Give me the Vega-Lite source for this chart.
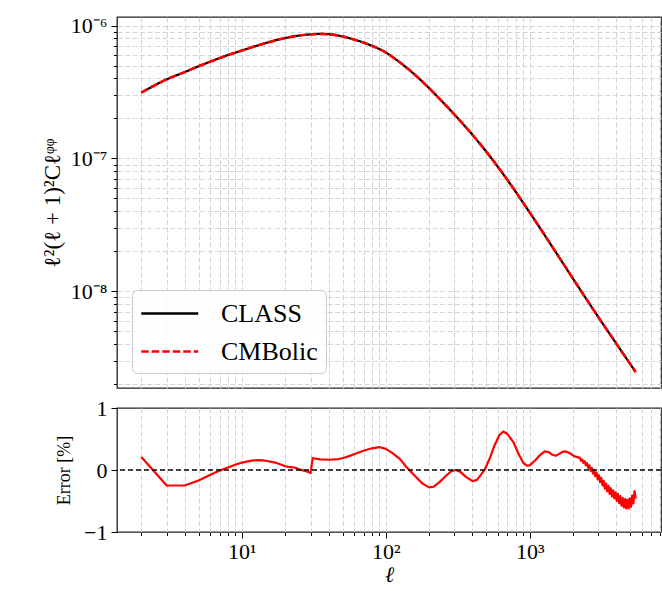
{
  "$schema": "https://vega.github.io/schema/vega-lite/v6.json",
  "padding": {"left": 40, "top": 13, "right": 1, "bottom": 2},
  "spacing": 0,
  "background": "white",
  "resolve": {"legend": {"color": "independent", "strokeDash": "independent"}},
  "config": {
    "view": {"stroke": "#222222", "strokeWidth": 1.3},
    "font": "Liberation Serif",
    "axis": {
      "labelFont": "Liberation Serif",
      "titleFont": "Liberation Serif",
      "labelColor": "black",
      "titleColor": "black",
      "tickColor": "black",
      "domain": false,
      "gridColor": "#d4d4d4",
      "gridDash": [5, 2.5],
      "gridWidth": 1,
      "labelFontSize": 22,
      "titleFontWeight": "normal",
      "tickWidth": 1,
      "labelOverlap": false,
      "labelFlush": false,
      "labelBound": false
    },
    "legend": {
      "labelFont": "Liberation Serif",
      "labelFontSize": 26,
      "labelColor": "black"
    }
  },
  "datasets": {
    "spec": [
      {"ell": 2, "class": 3.133e-7, "cmbolic": 3.133e-7},
      {"ell": 3, "class": 3.936e-7, "cmbolic": 3.936e-7},
      {"ell": 4, "class": 4.467e-7, "cmbolic": 4.467e-7},
      {"ell": 5, "class": 4.943e-7, "cmbolic": 4.943e-7},
      {"ell": 6, "class": 5.346e-7, "cmbolic": 5.346e-7},
      {"ell": 8, "class": 5.998e-7, "cmbolic": 5.998e-7},
      {"ell": 10, "class": 6.486e-7, "cmbolic": 6.486e-7},
      {"ell": 12, "class": 6.918e-7, "cmbolic": 6.918e-7},
      {"ell": 15, "class": 7.447e-7, "cmbolic": 7.447e-7},
      {"ell": 20, "class": 8.054e-7, "cmbolic": 8.054e-7},
      {"ell": 25, "class": 8.414e-7, "cmbolic": 8.414e-7},
      {"ell": 30, "class": 8.59e-7, "cmbolic": 8.59e-7},
      {"ell": 35, "class": 8.65e-7, "cmbolic": 8.65e-7},
      {"ell": 40, "class": 8.61e-7, "cmbolic": 8.61e-7},
      {"ell": 45, "class": 8.472e-7, "cmbolic": 8.472e-7},
      {"ell": 50, "class": 8.279e-7, "cmbolic": 8.279e-7},
      {"ell": 60, "class": 7.852e-7, "cmbolic": 7.852e-7},
      {"ell": 70, "class": 7.447e-7, "cmbolic": 7.447e-7},
      {"ell": 80, "class": 7.047e-7, "cmbolic": 7.047e-7},
      {"ell": 90, "class": 6.668e-7, "cmbolic": 6.668e-7},
      {"ell": 100, "class": 6.27e-7, "cmbolic": 6.27e-7},
      {"ell": 120, "class": 5.47e-7, "cmbolic": 5.47e-7},
      {"ell": 150, "class": 4.51e-7, "cmbolic": 4.51e-7},
      {"ell": 200, "class": 3.38e-7, "cmbolic": 3.38e-7},
      {"ell": 250, "class": 2.64e-7, "cmbolic": 2.64e-7},
      {"ell": 300, "class": 2.14e-7, "cmbolic": 2.14e-7},
      {"ell": 400, "class": 1.507e-7, "cmbolic": 1.507e-7},
      {"ell": 500, "class": 1.122e-7, "cmbolic": 1.122e-7},
      {"ell": 700, "class": 6.89e-8, "cmbolic": 6.89e-8},
      {"ell": 1000, "class": 3.92e-8, "cmbolic": 3.92e-8},
      {"ell": 1500, "class": 2.01e-8, "cmbolic": 2.01e-8},
      {"ell": 2000, "class": 1.245e-8, "cmbolic": 1.245e-8},
      {"ell": 3000, "class": 6.4e-9, "cmbolic": 6.4e-9},
      {"ell": 4000, "class": 4.04e-9, "cmbolic": 4.04e-9},
      {"ell": 5450, "class": 2.47e-9, "cmbolic": 2.47e-9}
    ],
    "err": [
      {"ell": 2, "err": 0.21}, {"ell": 3, "err": -0.25}, {"ell": 4, "err": -0.25},
      {"ell": 5, "err": -0.17}, {"ell": 6, "err": -0.08}, {"ell": 7, "err": -0.01},
      {"ell": 8, "err": 0.04}, {"ell": 9, "err": 0.085}, {"ell": 10, "err": 0.12},
      {"ell": 11, "err": 0.14}, {"ell": 12, "err": 0.155}, {"ell": 13, "err": 0.158},
      {"ell": 14, "err": 0.155}, {"ell": 15, "err": 0.145}, {"ell": 17, "err": 0.12},
      {"ell": 19, "err": 0.08}, {"ell": 20, "err": 0.06}, {"ell": 21, "err": 0.05},
      {"ell": 22, "err": 0.045}, {"ell": 23, "err": 0.04}, {"ell": 24, "err": 0.03},
      {"ell": 25, "err": 0.01}, {"ell": 27, "err": -0.01}, {"ell": 29, "err": -0.03},
      {"ell": 30, "err": -0.05}, {"ell": 31, "err": 0.19}, {"ell": 32, "err": 0.185},
      {"ell": 35, "err": 0.17}, {"ell": 40, "err": 0.165}, {"ell": 45, "err": 0.17},
      {"ell": 50, "err": 0.19}, {"ell": 55, "err": 0.22}, {"ell": 60, "err": 0.255},
      {"ell": 70, "err": 0.31}, {"ell": 80, "err": 0.35}, {"ell": 90, "err": 0.37},
      {"ell": 100, "err": 0.34}, {"ell": 110, "err": 0.28}, {"ell": 125, "err": 0.18},
      {"ell": 140, "err": 0.04}, {"ell": 147, "err": -0.01}, {"ell": 160, "err": -0.1},
      {"ell": 180, "err": -0.22}, {"ell": 200, "err": -0.28}, {"ell": 215, "err": -0.27},
      {"ell": 235, "err": -0.2}, {"ell": 260, "err": -0.1}, {"ell": 285, "err": -0.02},
      {"ell": 305, "err": 0.0}, {"ell": 330, "err": -0.03}, {"ell": 360, "err": -0.11},
      {"ell": 400, "err": -0.18}, {"ell": 430, "err": -0.16}, {"ell": 460, "err": -0.07},
      {"ell": 490, "err": 0.02}, {"ell": 530, "err": 0.2}, {"ell": 570, "err": 0.4},
      {"ell": 615, "err": 0.56}, {"ell": 655, "err": 0.62}, {"ell": 700, "err": 0.58},
      {"ell": 770, "err": 0.45}, {"ell": 840, "err": 0.25}, {"ell": 900, "err": 0.12},
      {"ell": 955, "err": 0.07}, {"ell": 1000, "err": 0.075}, {"ell": 1085, "err": 0.15},
      {"ell": 1180, "err": 0.24}, {"ell": 1270, "err": 0.3}, {"ell": 1350, "err": 0.29},
      {"ell": 1440, "err": 0.245}, {"ell": 1520, "err": 0.23}, {"ell": 1600, "err": 0.26},
      {"ell": 1700, "err": 0.295}, {"ell": 1780, "err": 0.3}, {"ell": 1900, "err": 0.27},
      {"ell": 2050, "err": 0.22},
      {"ell": 2230, "err": 0.195}, {"ell": 2273, "err": 0.148}, {"ell": 2317, "err": 0.169},
      {"ell": 2361, "err": 0.114}, {"ell": 2406, "err": 0.143}, {"ell": 2453, "err": 0.075},
      {"ell": 2500, "err": 0.112}, {"ell": 2548, "err": 0.036}, {"ell": 2597, "err": 0.076},
      {"ell": 2647, "err": -0.013}, {"ell": 2698, "err": 0.035}, {"ell": 2750, "err": -0.057},
      {"ell": 2803, "err": -0.001}, {"ell": 2856, "err": -0.101}, {"ell": 2911, "err": -0.042},
      {"ell": 2967, "err": -0.15}, {"ell": 3024, "err": -0.084}, {"ell": 3082, "err": -0.197},
      {"ell": 3142, "err": -0.127}, {"ell": 3202, "err": -0.249}, {"ell": 3264, "err": -0.175},
      {"ell": 3326, "err": -0.301}, {"ell": 3390, "err": -0.218}, {"ell": 3455, "err": -0.343},
      {"ell": 3522, "err": -0.256}, {"ell": 3590, "err": -0.385}, {"ell": 3659, "err": -0.294},
      {"ell": 3729, "err": -0.427}, {"ell": 3800, "err": -0.327}, {"ell": 3873, "err": -0.459},
      {"ell": 3948, "err": -0.36}, {"ell": 4024, "err": -0.497}, {"ell": 4101, "err": -0.386},
      {"ell": 4180, "err": -0.536}, {"ell": 4260, "err": -0.422}, {"ell": 4342, "err": -0.575},
      {"ell": 4425, "err": -0.45}, {"ell": 4510, "err": -0.602}, {"ell": 4597, "err": -0.468},
      {"ell": 4685, "err": -0.619}, {"ell": 4775, "err": -0.476}, {"ell": 4867, "err": -0.621},
      {"ell": 4960, "err": -0.459}, {"ell": 5056, "err": -0.593}, {"ell": 5153, "err": -0.412},
      {"ell": 5252, "err": -0.54}, {"ell": 5353, "err": -0.34}, {"ell": 5450, "err": -0.46}
    ]
  },
  "vconcat": [
    {
      "width": 544,
      "height": 371,
      "layer": [
        {
          "data": {"name": "spec"},
          "mark": {"type": "line", "interpolate": "monotone", "strokeWidth": 2.2},
          "encoding": {
            "x": {
              "field": "ell", "type": "quantitative",
              "scale": {"type": "log", "domain": [1.355, 8170], "nice": false},
              "axis": {
                "values": [2,3,4,5,6,7,8,9,10,20,30,40,50,60,70,80,90,100,200,300,400,500,600,700,800,900,1000,2000,3000,4000,5000,6000,7000,8000],
                "labels": false, "ticks": false, "title": null, "grid": true
              }
            },
            "y": {
              "field": "class", "type": "quantitative",
              "scale": {"type": "log", "domain": [1.875e-9, 1.16e-6], "nice": false},
              "axis": {
                "values": [2e-9,3e-9,4e-9,5e-9,6e-9,7e-9,8e-9,9e-9,1e-8,2e-8,3e-8,4e-8,5e-8,6e-8,7e-8,8e-8,9e-8,1e-7,2e-7,3e-7,4e-7,5e-7,6e-7,7e-7,8e-7,9e-7,1e-6],
                "grid": true,
                "title": "ℓ²(ℓ + 1)²Cℓᵠᵠ",
                "titleFontSize": 23,
                "titlePadding": 6,
                "labelPadding": 4,
                "labelExpr": "(datum.value > 9.5e-7 && datum.value < 1.05e-6) ? '10⁻⁶' : ((datum.value > 9.5e-8 && datum.value < 1.05e-7) ? '10⁻⁷' : ((datum.value > 9.5e-9 && datum.value < 1.05e-8) ? '10⁻⁸' : ''))",
                "tickSize": {"condition": {"test": "(datum.value > 9.5e-7 && datum.value < 1.05e-6) || (datum.value > 9.5e-8 && datum.value < 1.05e-7) || (datum.value > 9.5e-9 && datum.value < 1.05e-8)", "value": 6}, "value": 3.5}
              }
            },
            "color": {
              "datum": "CLASS", "type": "nominal",
              "scale": {"domain": ["CLASS", "CMBolic"], "range": ["black", "red"]},
              "legend": {
                "title": null, "orient": "bottom-left", "offset": 15, "padding": 8,
                "fillColor": "rgba(255,255,255,0.85)", "strokeColor": "#cccccc", "cornerRadius": 5,
                "symbolType": "M-1,0H3", "symbolSize": 812, "symbolStrokeWidth": 2.4,
                "labelOffset": 50, "rowPadding": 9
              }
            },
            "strokeDash": {
              "datum": "CLASS", "type": "nominal",
              "scale": {"domain": ["CLASS", "CMBolic"], "range": [[1, 0], [7.5, 3]]},
              "legend": {
                "title": null, "orient": "bottom-left", "offset": 15, "padding": 8,
                "fillColor": "rgba(255,255,255,0.85)", "strokeColor": "#cccccc", "cornerRadius": 5,
                "symbolType": "M-1,0H3", "symbolSize": 812, "symbolStrokeWidth": 2.4,
                "labelOffset": 50, "rowPadding": 9
              }
            }
          }
        },
        {
          "data": {"name": "spec"},
          "mark": {"type": "line", "interpolate": "monotone", "strokeWidth": 2.6},
          "encoding": {
            "x": {"field": "ell", "type": "quantitative"},
            "y": {"field": "cmbolic", "type": "quantitative"},
            "color": {"datum": "CMBolic", "type": "nominal"},
            "strokeDash": {"datum": "CMBolic", "type": "nominal"}
          }
        }
      ]
    },
    {
      "width": 544,
      "height": 124,
      "layer": [
        {
          "data": {"name": "err"},
          "mark": {"type": "line", "color": "red", "strokeWidth": 2.2, "strokeJoin": "round"},
          "encoding": {
            "x": {
              "field": "ell", "type": "quantitative",
              "scale": {"type": "log", "domain": [1.355, 8170], "nice": false},
              "axis": {
                "values": [2,3,4,5,6,7,8,9,10,20,30,40,50,60,70,80,90,100,200,300,400,500,600,700,800,900,1000,2000,3000,4000,5000,6000,7000,8000],
                "grid": true,
                "title": "ℓ",
                "titleFontStyle": "italic",
                "titleFontSize": 22,
                "titlePadding": 2,
                "labelPadding": 3,
                "labelExpr": "datum.value == 10 ? '10¹' : (datum.value == 100 ? '10²' : (datum.value == 1000 ? '10³' : ''))",
                "tickSize": {"condition": {"test": "datum.value == 10 || datum.value == 100 || datum.value == 1000", "value": 6}, "value": 3.5}
              }
            },
            "y": {
              "field": "err", "type": "quantitative",
              "scale": {"domain": [-1, 1], "nice": false},
              "axis": {
                "values": [-1, 0, 1],
                "labelExpr": "datum.value < -0.5 ? '−1' : (datum.value > 0.5 ? '1' : '0')",
                "grid": false,
                "title": "Error [%]",
                "titleFontSize": 18,
                "titlePadding": 10,
                "labelPadding": 4,
                "tickSize": 6
              }
            }
          }
        },
        {
          "data": {"values": [{}]},
          "mark": {"type": "rule", "color": "black", "strokeDash": [5, 3], "strokeWidth": 1.3},
          "encoding": {"y": {"datum": 0}}
        }
      ]
    }
  ]
}
